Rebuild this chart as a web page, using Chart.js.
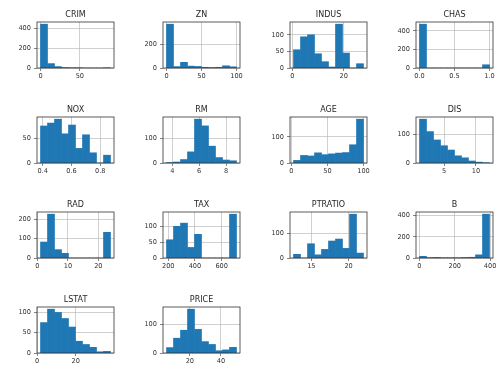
<!DOCTYPE html>
<html>
<head>
<meta charset="utf-8">
<script src="https://cdn.jsdelivr.net/npm/chart.js@4"></script>
<style>
  html, body { margin: 0; padding: 0; background: #fff; }
  #fig { position: relative; width: 500px; height: 371px; overflow: hidden; background: #fff; }
  .cell { position: absolute; }
</style>
</head>
<body>
<div id="fig"></div>
<script>
const columns = ['CRIM', 'ZN', 'INDUS', 'CHAS', 'NOX', 'RM', 'AGE', 'DIS', 'RAD', 'TAX', 'PTRATIO', 'B', 'LSTAT', 'PRICE'];

// counts per bin (10 equal bins between each column's min and max)
const crimCounts = [439, 44, 14, 5, 2, 1, 0, 0, 0, 1];
const znCounts = [372, 12, 48, 16, 13, 6, 4, 6, 19, 10];
const indusCounts = [55, 94, 100, 43, 19, 3, 132, 45, 0, 13];
const chasCounts = [471, 0, 0, 0, 0, 0, 0, 0, 0, 35];
const noxCounts = [76, 82, 90, 60, 78, 30, 58, 21, 0, 16];
const rmCounts = [2, 4, 14, 45, 177, 150, 68, 22, 12, 9];
const ageCounts = [10, 29, 27, 39, 32, 35, 38, 40, 70, 168];
const disCounts = [152, 109, 80, 60, 45, 25, 18, 7, 3, 1];
const radCounts = [82, 225, 43, 24, 0, 0, 0, 0, 0, 132];
const taxCounts = [57, 99, 109, 33, 74, 0, 0, 0, 0, 137];
const ptratioCounts = [15, 0, 58, 13, 35, 69, 77, 39, 178, 20];
const bCounts = [16, 4, 6, 2, 3, 2, 5, 7, 30, 415];
const lstatCounts = [75, 108, 100, 85, 64, 29, 21, 14, 3, 4];
const priceCounts = [19, 52, 80, 154, 83, 40, 30, 8, 11, 20];

// data range of each column
const dataMin = [0.00632, 0, 0.46, 0, 0.385, 3.561, 2.9, 1.1296, 1, 187, 12.6, 0.32, 1.73, 5];
const dataMax = [88.9762, 100, 27.74, 1, 0.871, 8.78, 100, 12.1265, 24, 711, 22, 396.9, 37.97, 50];

const xTickLabels = [
  ['0', '50'], ['0', '50', '100'], ['0', '20'], ['0.0', '0.5', '1.0'],
  ['0.4', '0.6', '0.8'], ['4', '6', '8'], ['0', '50', '100'], ['5', '10'],
  ['0', '10', '20'], ['200', '400', '600'], ['15', '20'], ['0', '200', '400'],
  ['0', '20'], ['20', '40']
];
const yTickLabels = [
  ['0', '200', '400'], ['0', '200'], ['0', '50', '100'], ['0', '200', '400'],
  ['0', '50'], ['0', '100'], ['0', '100'], ['0', '100'],
  ['0', '100', '200'], ['0', '50', '100'], ['0', '100'], ['0', '200', '400'],
  ['0', '50', '100'], ['0', '100']
];

const allCounts = [crimCounts, znCounts, indusCounts, chasCounts, noxCounts, rmCounts, ageCounts,
  disCounts, radCounts, taxCounts, ptratioCounts, bCounts, lstatCounts, priceCounts];

// grid geometry (plot area of each subplot)
const plotLefts = [37, 163, 290, 416];
const plotTops = [22, 117, 212, 307];
const plotW = 77, plotH = 46;
const yAxisW = 30, xAxisH = 14, titleH = 12, padRight = 10;

const tickFont = { family: 'DejaVu Sans', size: 6.6 };
const textColor = '#333';

const framePlugin = {
  id: 'frame',
  afterDraw(chart) {
    const { ctx, chartArea: a } = chart;
    ctx.save();
    ctx.strokeStyle = '#333';
    ctx.lineWidth = 0.8;
    ctx.strokeRect(a.left, a.top, a.right - a.left, a.bottom - a.top);
    ctx.restore();
  }
};

const fig = document.getElementById('fig');

columns.forEach((name, i) => {
  const row = Math.floor(i / 4), col = i % 4;
  const counts = allCounts[i];
  const lo = dataMin[i], hi = dataMax[i];
  const binW = (hi - lo) / counts.length;
  const points = counts.map((c, k) => ({ x: lo + binW * (k + 0.5), y: c }));
  const margin = (hi - lo) * 0.05;
  const xVals = xTickLabels[i].map(Number);
  const yVals = yTickLabels[i].map(Number);

  const cell = document.createElement('div');
  cell.className = 'cell';
  cell.style.left = (plotLefts[col] - yAxisW) + 'px';
  cell.style.top = (plotTops[row] - titleH) + 'px';
  cell.style.width = (yAxisW + plotW + padRight) + 'px';
  cell.style.height = (titleH + plotH + xAxisH) + 'px';
  const canvas = document.createElement('canvas');
  cell.appendChild(canvas);
  fig.appendChild(cell);

  new Chart(canvas, {
    type: 'bar',
    data: {
      datasets: [{
        data: points,
        backgroundColor: '#1f77b4',
        borderWidth: 0,
        barPercentage: 1,
        categoryPercentage: 1
      }]
    },
    options: {
      responsive: true,
      maintainAspectRatio: false,
      animation: false,
      layout: { padding: { left: 0, right: padRight, top: 0, bottom: 0 } },
      plugins: {
        legend: { display: false },
        tooltip: { enabled: false },
        title: {
          display: true,
          text: name,
          fullSize: false,
          color: '#262626',
          font: { family: 'DejaVu Sans', size: 8, weight: 'normal' },
          padding: { top: 0, bottom: 2.4 }
        }
      },
      scales: {
        x: {
          type: 'linear',
          offset: false,
          min: lo - margin,
          max: hi + margin,
          z: 1,
          afterBuildTicks: s => { s.ticks = xVals.map(v => ({ value: v })); },
          afterFit: s => { s.height = xAxisH; },
          ticks: {
            font: tickFont,
            color: textColor,
            padding: 1,
            maxRotation: 0,
            autoSkip: false,
            callback: (v, k) => xTickLabels[i][k]
          },
          grid: { color: '#b0b0b0', lineWidth: 0.6, tickColor: '#333', tickLength: 3, offset: false },
          border: { display: false }
        },
        y: {
          min: 0,
          max: Math.max(...counts) * 1.05,
          z: 1,
          afterBuildTicks: s => { s.ticks = yVals.map(v => ({ value: v })); },
          afterFit: s => { s.width = yAxisW; },
          ticks: {
            font: tickFont,
            color: textColor,
            padding: 3,
            autoSkip: false,
            callback: (v, k) => yTickLabels[i][k]
          },
          grid: { color: '#b0b0b0', lineWidth: 0.6, tickColor: '#333', tickLength: 3 },
          border: { display: false }
        }
      }
    },
    plugins: [framePlugin]
  });
});
</script>
</body>
</html>
